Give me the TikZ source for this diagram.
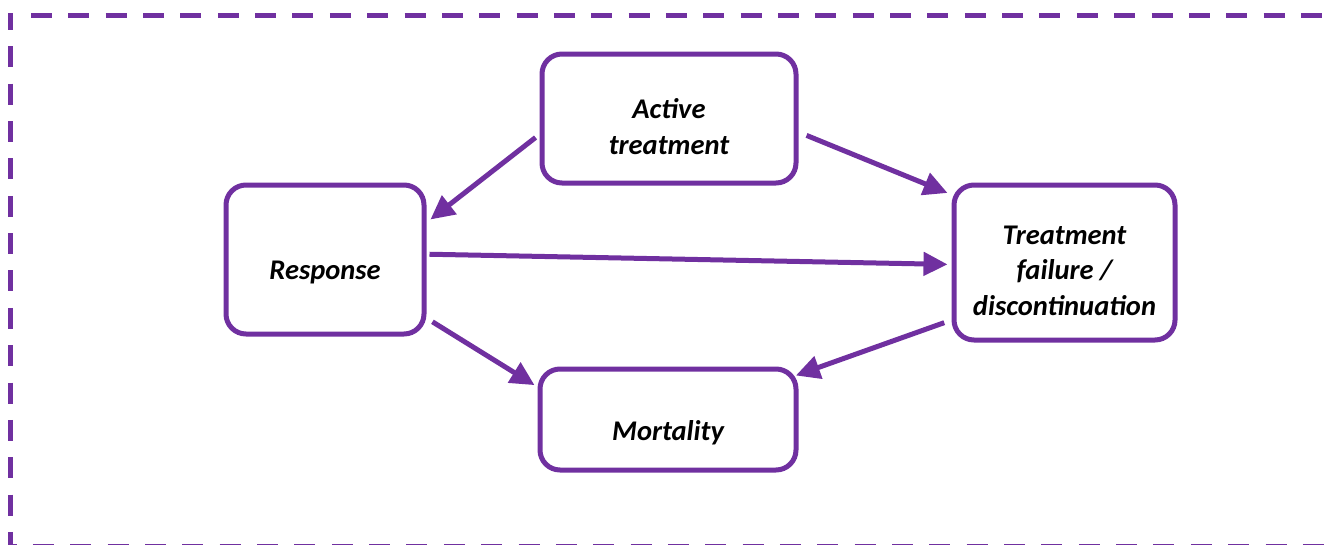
\documentclass[tikz,border=0pt]{standalone}
\usepackage{fontspec}
\setmainfont{Carlito}
\usetikzlibrary{arrows.meta}
\definecolor{plum}{HTML}{7030A0}

\begin{document}
\begin{tikzpicture}[x=1pt,y=-1pt,
  boxnode/.style={draw=plum, line width=5pt, rounded corners=20pt, inner sep=0pt},
  txt/.style={font=\fontsize{28.5}{35.5}\selectfont\bfseries\itshape, align=center, inner sep=0pt},
  link/.style={draw=plum, line width=5pt, -{Triangle[length=24pt,width=23pt]}},
  frame/.style={draw=plum, line width=5pt, dash pattern=on 21pt off 16.35pt},
]
\useasboundingbox (0,0) rectangle (1325,544);
\clip (0,0) rectangle (1325,544);

% dashed outer frame
\draw[frame, dash phase=3pt] (13,15) -- (10,15) -- (10,546.3) -- (1340,546.3);
\draw[frame] (31,15) -- (1340,15);

% states
\node[boxnode, minimum width=254pt, minimum height=129pt,
      label={[txt,yshift=-8pt]center:Active\\treatment}] (act) at (669,118.5) {};
\node[boxnode, minimum width=198pt, minimum height=149pt,
      label={[txt,yshift=-13pt]center:Response}] (resp) at (325,259.5) {};
\node[boxnode, minimum width=221pt, minimum height=155pt,
      label={[txt,yshift=-8pt]center:Treatment\\failure /\\discontinuation}] (fail) at (1064.5,262.5) {};
\node[boxnode, minimum width=256pt, minimum height=101pt,
      label={[txt,yshift=-13pt]center:Mortality}] (mort) at (668,419.5) {};

% transitions
\draw[link, shorten <=5pt, shorten >=5pt] (act.187) -- (resp.20.3);
\draw[link, shorten <=8.7pt, shorten >=4.3pt] (act.-6.4) -- (fail.149.9);
\draw[link, shorten <=3pt, shorten >=4pt] (resp.3.25) -- (fail.181);
\draw[link, shorten <=7pt, shorten >=3.5pt] (resp.-30.4) -- (mort.166.5);
\draw[link, shorten <=7.7pt, shorten >=-2.8pt] (fail.207.6) -- (mort.19.5);
\end{tikzpicture}
\end{document}
